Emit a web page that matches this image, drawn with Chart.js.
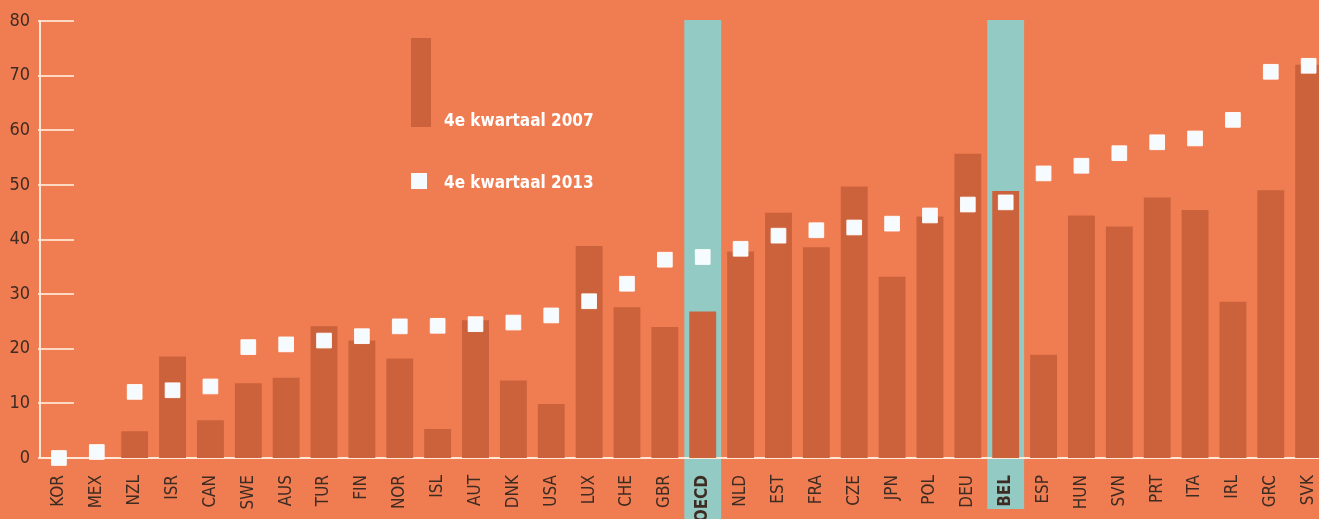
<!DOCTYPE html>
<html>
<head>
<meta charset="utf-8">
<script src="https://cdn.jsdelivr.net/npm/chart.js@4"></script>
<style>
  html, body { margin: 0; padding: 0; overflow: hidden; background: #f07d52; }
  #wrap { width: 1339px; height: 519px; }
</style>
</head>
<body>
<div id="wrap"><canvas id="c" width="1339" height="519"></canvas></div>
<script>
const categories = ['KOR','MEX','NZL','ISR','CAN','SWE','AUS','TUR','FIN','NOR','ISL','AUT','DNK','USA','LUX','CHE','GBR','OECD','NLD','EST','FRA','CZE','JPN','POL','DEU','BEL','ESP','HUN','SVN','PRT','ITA','IRL','GRC','SVK'];
const values2007 = [0, 0, 4.9, 18.6, 6.9, 13.7, 14.7, 24.1, 21.5, 18.2, 5.3, 25.2, 14.2, 9.9, 38.8, 27.6, 24.0, 26.8, 37.8, 44.9, 38.6, 49.7, 33.2, 44.2, 55.7, 48.9, 18.9, 44.4, 42.4, 47.7, 45.4, 28.6, 49.0, 72.0];
const values2013 = [0, 1.1, 12.1, 12.4, 13.1, 20.3, 20.8, 21.5, 22.3, 24.1, 24.2, 24.5, 24.8, 26.1, 28.7, 31.9, 36.3, 36.8, 38.3, 40.7, 41.7, 42.2, 42.9, 44.4, 46.4, 46.8, 52.1, 53.5, 55.8, 57.8, 58.5, 61.9, 70.7, 71.8];
const yTickLabels = ['0','10','20','30','40','50','60','70','80'];
const highlighted = ['OECD','BEL'];
const legendLabels = ['4e kwartaal 2007', '4e kwartaal 2013'];

const BG = '#f07d52';
const BAR = '#cb623c';
const TEAL = '#93cbc4';
const TXT = '#3e2b22';
const FAM = "'Liberation Sans Narrow', 'DejaVu Sans Condensed', 'Roboto', sans-serif";

const decor = {
  id: 'decor',
  beforeDraw(chart) {
    const {ctx, scales: {x, y}} = chart;
    ctx.save();
    ctx.fillStyle = BG;
    ctx.fillRect(0, 0, chart.width, chart.height);
    const w = (x.right - x.left) / categories.length;
    highlighted.forEach((name, k) => {
      const i = categories.indexOf(name);
      const cx = x.getPixelForValue(i);
      const top = y.getPixelForValue(80) - 1;
      const bottom = k === 0 ? chart.height : 509;
      ctx.fillStyle = TEAL;
      ctx.fillRect(cx - w / 2 + 0.5, top, w - 1, bottom - top);
    });
    ctx.restore();
  },
  beforeDatasetsDraw(chart) {
    const {ctx, scales: {x, y}} = chart;
    ctx.save();
    ctx.strokeStyle = 'rgba(255,232,215,0.85)';
    ctx.lineWidth = 2;
    y.ticks.forEach(t => {
      const py = Math.round(y.getPixelForValue(t.value));
      ctx.beginPath();
      ctx.moveTo(x.left - 2, py);
      ctx.lineTo(x.left + 34, py);
      ctx.stroke();
    });
    ctx.restore();
  },
  afterDraw(chart) {
    const {ctx} = chart;
    ctx.save();
    ctx.fillStyle = BAR;
    ctx.fillRect(411, 38, 20, 89);
    ctx.fillStyle = '#ffffff';
    ctx.font = "bold 17px " + FAM;
    ctx.textBaseline = 'alphabetic';
    ctx.textAlign = 'left';
    ctx.fillText(legendLabels[0], 444, 126);
    ctx.fillStyle = '#f6fbff';
    ctx.fillRect(411, 173, 16, 16);
    ctx.fillStyle = '#ffffff';
    ctx.fillText(legendLabels[1], 444, 188);
    ctx.restore();
  }
};

new Chart(document.getElementById('c'), {
  data: {
    labels: categories,
    datasets: [
      {
        type: 'line',
        label: legendLabels[1],
        data: values2013,
        showLine: false,
        pointStyle: 'rect',
        pointRadius: 10.4,
        pointBackgroundColor: '#f6fbff',
        pointBorderColor: 'rgba(255,255,255,0.9)',
        pointBorderWidth: 1,
        clip: false,
        order: 0
      },
      {
        type: 'bar',
        label: legendLabels[0],
        data: values2007,
        backgroundColor: BAR,
        borderWidth: 0,
        barPercentage: 0.71,
        categoryPercentage: 1,
        order: 1
      }
    ]
  },
  options: {
    responsive: false,
    devicePixelRatio: 1,
    animation: false,
    layout: { padding: { top: 21, right: 3, left: 0, bottom: 0 } },
    plugins: { legend: { display: false }, tooltip: { enabled: false } },
    scales: {
      x: {
        type: 'category',
        offset: true,
        grid: { display: false, drawTicks: false },
        border: { display: true, color: 'rgba(255,236,222,0.95)', width: 2 },
        ticks: {
          autoSkip: false,
          minRotation: 90,
          maxRotation: 90,
          padding: 17,
          color: TXT,
          font: (c) => ({ family: FAM, size: 17, weight: highlighted.includes(categories[c.index]) ? 'bold' : 'normal' })
        },
        afterFit(s) { s.height = 61; s.paddingLeft = 0; s.paddingRight = 0; }
      },
      y: {
        min: 0,
        max: 80,
        grid: { display: false, drawTicks: false },
        border: { display: true, color: 'rgba(255,236,222,0.95)', width: 2 },
        ticks: {
          stepSize: 10,
          padding: 10,
          color: TXT,
          font: { family: FAM, size: 18 },
          callback: (v) => yTickLabels[v / 10]
        },
        afterFit(s) { s.width = 40; }
      }
    }
  },
  plugins: [decor]
});
</script>
</body>
</html>
